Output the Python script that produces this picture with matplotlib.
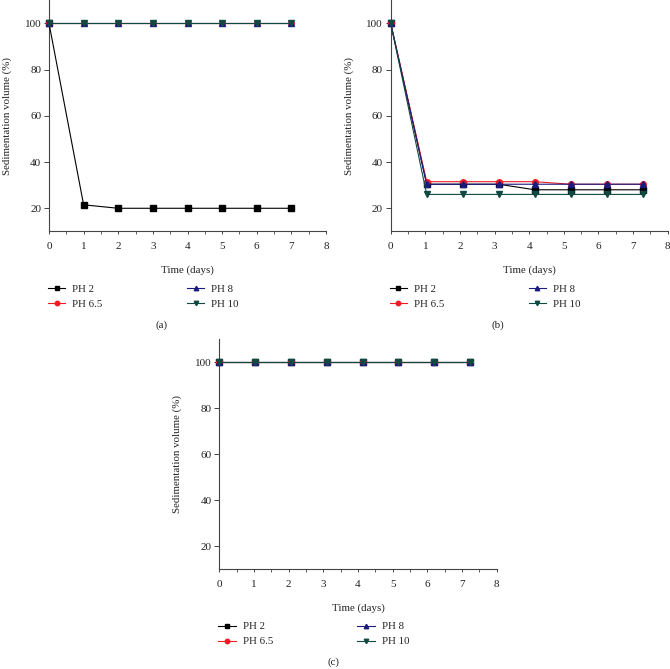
import matplotlib
matplotlib.use("Agg")
import matplotlib.pyplot as plt
from matplotlib.ticker import MultipleLocator

plt.rcParams['font.family'] = ['Liberation Serif', 'DejaVu Serif']

labels = ["PH 2", "PH 6.5", "PH 8", "PH 10"]
colors = ["#000000", "#ee1c24", "#1b1b7e", "#0f4a42"]
markers = ["s", "o", "^", "v"]

# Panel (a)
days_a = [0, 1, 2, 3, 4, 5, 6, 7]
a_ph2 = [100, 21.5, 20, 20, 20, 20, 20, 20]
a_ph65 = [100, 100, 100, 100, 100, 100, 100, 100]
a_ph8 = [100, 100, 100, 100, 100, 100, 100, 100]
a_ph10 = [100, 100, 100, 100, 100, 100, 100, 100]

# Panel (b)
days_b = [0, 1.04, 2.08, 3.12, 4.16, 5.2, 6.24, 7.28]
b_ph2 = [100, 30.4, 30.4, 30.4, 28.0, 28.0, 28.0, 28.0]
b_ph65 = [100, 31.5, 31.5, 31.5, 31.5, 30.4, 30.4, 30.4]
b_ph8 = [100, 30.4, 30.4, 30.4, 30.4, 30.4, 30.4, 30.4]
b_ph10 = [100, 26.0, 26.0, 26.0, 26.0, 26.0, 26.0, 26.0]

# Panel (c)
days_c = [0, 1.03, 2.07, 3.1, 4.13, 5.16, 6.2, 7.22]
c_ph2 = [100, 100, 100, 100, 100, 100, 100, 100]
c_ph65 = [100, 100, 100, 100, 100, 100, 100, 100]
c_ph8 = [100, 100, 100, 100, 100, 100, 100, 100]
c_ph10 = [100, 100, 100, 100, 100, 100, 100, 100]

xticks = [0, 1, 2, 3, 4, 5, 6, 7, 8]
yticks = [20, 40, 60, 80, 100]

fig = plt.figure(figsize=(6.7, 6.69), dpi=100)
W, H = 670.0, 669.0

def make_axes(left_px, right_px, top_px, bottom_px):
    return fig.add_axes([left_px / W, 1 - bottom_px / H,
                         (right_px - left_px) / W, (bottom_px - top_px) / H])

spine_col = "#444444"
txt_col = "#222222"
FS = 7.8

def style(ax, x, series, caption, cap_xy):
    for ys, lab, col, mk in zip(series, labels, colors, markers):
        ax.plot(x, ys, color=col, marker=mk, markersize=4.0, linewidth=0.8,
                label=lab, clip_on=False, zorder=3)
    ax.set_xlim(0, 8)
    ax.set_ylim(10, 110)
    ax.set_xticks(xticks)
    ax.set_yticks(yticks)
    ax.xaxis.set_minor_locator(MultipleLocator(0.5))
    for s in ["top", "right"]:
        ax.spines[s].set_visible(False)
    for s in ["left", "bottom"]:
        ax.spines[s].set_color(spine_col)
        ax.spines[s].set_linewidth(0.8)
    ax.tick_params(axis="x", which="major", direction="out", length=2.5,
                   width=0.7, color=spine_col, labelsize=8, pad=5,
                   labelcolor=txt_col)
    ax.tick_params(axis="y", which="major", direction="out", length=3.5,
                   width=0.7, color=spine_col, labelsize=8, pad=2,
                   labelcolor=txt_col)
    ax.tick_params(axis="x", which="minor", direction="out", length=2.0,
                   width=0.6, color=spine_col)
    ax.set_xlabel("Time (days)", fontsize=FS, color=txt_col)
    ax.set_ylabel("Sedimentation volume (%)", fontsize=FS, color=txt_col)
    ax.xaxis.set_label_coords(0.5, -0.148)
    ax.yaxis.set_label_coords(-0.133, 0.5)
    handles, labs = ax.get_legend_handles_labels()
    kw = dict(loc="upper left", frameon=False, fontsize=FS,
              handlelength=1.6, handletextpad=0.65, labelspacing=0.5,
              borderaxespad=0, borderpad=0, labelcolor=txt_col,
              markerscale=0.8)
    leg1 = ax.legend(handles[:2], labs[:2], bbox_to_anchor=(-0.004, -0.228), **kw)
    ax.add_artist(leg1)
    ax.legend(handles[2:], labs[2:], bbox_to_anchor=(0.498, -0.228), **kw)
    fig.text(cap_xy[0] / W, 1 - cap_xy[1] / H, caption, ha="center",
             va="center", fontsize=FS, color=txt_col)

ax_a = make_axes(49, 326, 0.2, 231.4)
style(ax_a, days_a, [a_ph2, a_ph65, a_ph8, a_ph10], "(a)", (162, 325))

ax_b = make_axes(390.7, 667.7, 0.2, 231.4)
style(ax_b, days_b, [b_ph2, b_ph65, b_ph8, b_ph10], "(b)", (498, 325))

ax_c = make_axes(219.3, 496.7, 339.3, 569.3)
style(ax_c, days_c, [c_ph2, c_ph65, c_ph8, c_ph10], "(c)", (333, 662))

fig.savefig("out.png", dpi=100)
